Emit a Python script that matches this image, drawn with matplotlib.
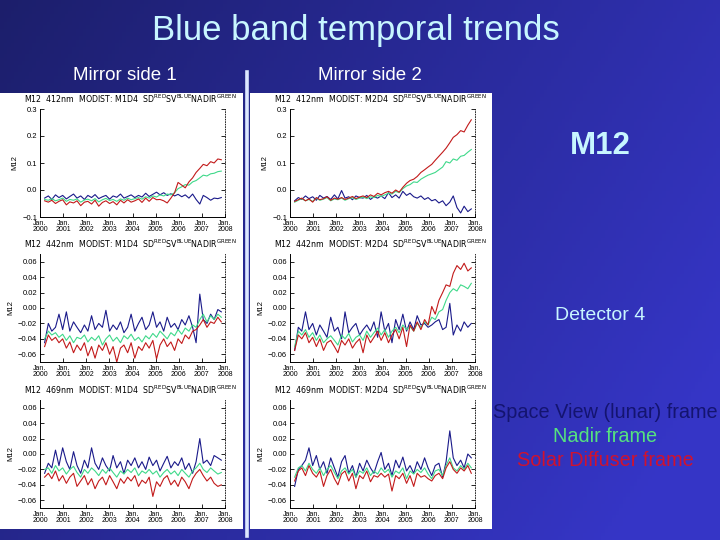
import numpy as np
import matplotlib
matplotlib.use("Agg")
import matplotlib.pyplot as plt
from matplotlib.patches import Rectangle
from matplotlib.lines import Line2D

# ---------------- data ----------------
t = [2000.20, 2000.36, 2000.51, 2000.67, 2000.82, 2000.98, 2001.14, 2001.29, 2001.45, 2001.60,
     2001.76, 2001.92, 2002.07, 2002.23, 2002.38, 2002.54, 2002.70, 2002.85, 2003.01, 2003.16,
     2003.32, 2003.48, 2003.63, 2003.79, 2003.94, 2004.10, 2004.26, 2004.41, 2004.57, 2004.72,
     2004.88, 2005.04, 2005.19, 2005.35, 2005.50, 2005.66, 2005.82, 2005.97, 2006.13, 2006.28,
     2006.44, 2006.60, 2006.75, 2006.91, 2007.06, 2007.22, 2007.38, 2007.53, 2007.69, 2007.84]

year_ticks = [2000, 2001, 2002, 2003, 2004, 2005, 2006, 2007, 2008]
year_labels = ["Jan.\n2000", "Jan.\n2001", "Jan.\n2002", "Jan.\n2003", "Jan.\n2004",
               "Jan.\n2005", "Jan.\n2006", "Jan.\n2007", "Jan.\n2008"]

# Mirror side 1, 412 nm
ms1_412_sv = [-0.030, -0.022, -0.035, -0.018, -0.028, -0.020, -0.033, -0.024, -0.015, -0.030,
              -0.022, -0.035, -0.020, -0.028, -0.017, -0.032, -0.025, -0.020, -0.034, -0.022,
              -0.027, -0.015, -0.030, -0.024, -0.018, -0.028, -0.020, -0.026, -0.012, -0.024,
              -0.016, -0.008, -0.018, -0.010, -0.020, -0.014, -0.022, -0.016, -0.025, -0.018,
              -0.030, -0.015, -0.035, -0.052, -0.020, -0.028, -0.038, -0.030, -0.032, -0.028]
ms1_412_nadir = [-0.035, -0.038, -0.032, -0.040, -0.036, -0.030, -0.042, -0.035, -0.038, -0.033,
                 -0.045, -0.037, -0.034, -0.040, -0.032, -0.044, -0.036, -0.031, -0.039, -0.035,
                 -0.042, -0.033, -0.038, -0.030, -0.036, -0.032, -0.028, -0.034, -0.025, -0.030,
                 -0.022, -0.026, -0.018, -0.022, -0.015, -0.018, -0.010, 0.005, 0.012, 0.020,
                 0.018, 0.030, 0.035, 0.045, 0.055, 0.052, 0.060, 0.062, 0.068, 0.070]
ms1_412_sd = [-0.040, -0.045, -0.038, -0.050, -0.042, -0.036, -0.055, -0.044, -0.048, -0.040,
              -0.058, -0.045, -0.042, -0.052, -0.038, -0.060, -0.046, -0.040, -0.050, -0.043,
              -0.055, -0.038, -0.048, -0.036, -0.045, -0.040, -0.033, -0.046, -0.030, -0.042,
              -0.028, -0.036, -0.035, -0.040, -0.048, -0.030, -0.010, 0.028, 0.018, 0.008,
              0.030, 0.045, 0.065, 0.080, 0.095, 0.090, 0.105, 0.100, 0.115, 0.112]

# Mirror side 2, 412 nm
ms2_412_sv = [-0.040, -0.028, -0.035, -0.022, -0.032, -0.025, -0.038, -0.020, -0.030, -0.024,
              -0.035, -0.018, -0.033, -0.002, -0.030, -0.025, -0.036, -0.022, -0.028, -0.030,
              -0.020, -0.035, -0.025, -0.030, -0.022, -0.032, -0.010, -0.028, -0.018, -0.030,
              -0.005, -0.020, -0.012, -0.025, -0.030, -0.022, -0.035, -0.028, -0.040, -0.035,
              -0.048, -0.040, -0.058, -0.045, -0.022, -0.065, -0.085, -0.060, -0.080, -0.070]
ms2_412_nadir = [-0.045, -0.038, -0.032, -0.040, -0.035, -0.042, -0.030, -0.038, -0.034, -0.028,
                 -0.040, -0.033, -0.036, -0.030, -0.038, -0.032, -0.028, -0.035, -0.030, -0.026,
                 -0.032, -0.025, -0.028, -0.020, -0.024, -0.018, -0.012, -0.015, -0.005, -0.010,
                 0.005, 0.015, 0.020, 0.030, 0.028, 0.040, 0.048, 0.055, 0.060, 0.065,
                 0.075, 0.085, 0.105, 0.100, 0.115, 0.110, 0.125, 0.128, 0.140, 0.150]
ms2_412_sd = [-0.042, -0.036, -0.030, -0.040, -0.033, -0.045, -0.028, -0.036, -0.032, -0.025,
              -0.038, -0.030, -0.034, -0.028, -0.035, -0.030, -0.024, -0.032, -0.026, -0.022,
              -0.028, -0.018, -0.024, -0.012, -0.018, -0.010, -0.005, -0.012, 0.000, -0.008,
              0.010, 0.025, 0.035, 0.040, 0.050, 0.065, 0.075, 0.085, 0.095, 0.110,
              0.125, 0.140, 0.155, 0.175, 0.195, 0.205, 0.220, 0.215, 0.240, 0.260]

# Mirror side 1, 442 nm
ms1_442_sv = [-0.045, -0.020, -0.030, -0.025, -0.008, -0.028, -0.005, -0.030, -0.018, -0.025,
              -0.032, -0.022, -0.030, -0.010, -0.028, -0.020, -0.025, -0.003, -0.030, -0.022,
              -0.028, -0.018, -0.032, -0.025, -0.008, -0.030, -0.020, -0.012, -0.028, -0.022,
              -0.005, -0.025, -0.018, -0.030, -0.012, -0.025, -0.020, -0.028, -0.015, -0.022,
              -0.010, -0.025, -0.045, 0.018, -0.015, -0.020, -0.008, -0.015, -0.002, -0.005]
ms1_442_nadir = [-0.040, -0.030, -0.035, -0.032, -0.038, -0.034, -0.042, -0.036, -0.045, -0.038,
                 -0.040, -0.035, -0.044, -0.038, -0.042, -0.036, -0.048, -0.040, -0.035, -0.043,
                 -0.038, -0.045, -0.036, -0.040, -0.034, -0.042, -0.038, -0.044, -0.036, -0.040,
                 -0.033, -0.038, -0.030, -0.035, -0.040, -0.032, -0.036, -0.028, -0.034, -0.026,
                 -0.030, -0.022, -0.025, -0.015, -0.008, -0.018, -0.010, -0.015, -0.008, -0.012]
ms1_442_sd = [-0.050, -0.035, -0.042, -0.038, -0.045, -0.040, -0.052, -0.044, -0.058, -0.048,
              -0.055, -0.045, -0.062, -0.050, -0.065, -0.048, -0.055, -0.045, -0.060, -0.050,
              -0.070, -0.052, -0.048, -0.058, -0.045, -0.065, -0.050, -0.055, -0.045, -0.052,
              -0.042, -0.066, -0.048, -0.040, -0.050, -0.044, -0.055, -0.040, -0.046, -0.035,
              -0.040, -0.030, -0.028, -0.022, -0.015, -0.025, -0.018, -0.020, -0.012, -0.018]

# Mirror side 2, 442 nm
ms2_442_sv = [-0.055, -0.025, -0.030, -0.005, -0.028, -0.020, -0.035, -0.022, -0.030, -0.038,
              -0.012, -0.030, -0.025, -0.040, -0.005, -0.032, -0.025, -0.020, -0.035, -0.028,
              -0.022, -0.030, -0.018, -0.038, -0.005, -0.030, -0.020, -0.045, -0.015, -0.028,
              -0.008, -0.030, -0.018, -0.028, -0.010, -0.022, -0.020, -0.025, -0.022, -0.018,
              -0.015, -0.028, -0.025, 0.006, -0.035, -0.022, -0.030, -0.018, -0.025, -0.020]
ms2_442_nadir = [-0.050, -0.030, -0.035, -0.028, -0.038, -0.032, -0.042, -0.035, -0.045, -0.040,
                 -0.036, -0.042, -0.048, -0.035, -0.040, -0.033, -0.044, -0.038, -0.035, -0.042,
                 -0.030, -0.038, -0.032, -0.026, -0.035, -0.028, -0.038, -0.030, -0.025, -0.032,
                 -0.022, -0.028, -0.024, -0.030, -0.020, -0.025, -0.018, -0.022, -0.012, -0.015,
                 -0.005, -0.002, 0.010, 0.020, 0.025, 0.022, 0.030, 0.028, 0.025, 0.032]
ms2_442_sd = [-0.055, -0.035, -0.040, -0.032, -0.045, -0.038, -0.050, -0.040, -0.055, -0.045,
              -0.042, -0.050, -0.058, -0.042, -0.048, -0.040, -0.052, -0.045, -0.040, -0.058,
              -0.035, -0.045, -0.038, -0.030, -0.042, -0.032, -0.045, -0.035, -0.028, -0.040,
              -0.025, -0.050, -0.022, -0.030, -0.018, -0.028, -0.015, -0.022, 0.002, -0.008,
              0.010, 0.020, 0.030, 0.028, 0.045, 0.055, 0.050, 0.058, 0.048, 0.052]

# Mirror side 1, 469 nm
ms1_469_sv = [-0.025, -0.012, -0.018, 0.005, -0.015, 0.008, -0.010, -0.020, 0.003, -0.015,
              -0.025, -0.008, -0.018, 0.008, -0.012, -0.020, -0.005, -0.015, -0.022, -0.002,
              -0.018, -0.010, -0.025, -0.008, -0.015, -0.005, -0.018, -0.010, -0.020, -0.004,
              -0.015, -0.008, -0.022, -0.012, -0.003, -0.018, -0.010, -0.015, -0.005, -0.020,
              -0.012, -0.025, -0.010, 0.020, -0.012, -0.008, -0.015, -0.002, -0.005, -0.008]
ms1_469_nadir = [-0.020, -0.018, -0.025, -0.015, -0.022, -0.018, -0.026, -0.020, -0.016, -0.024,
                 -0.030, -0.020, -0.025, -0.018, -0.022, -0.028, -0.020, -0.025, -0.018, -0.024,
                 -0.030, -0.022, -0.026, -0.020, -0.024, -0.018, -0.028, -0.022, -0.025, -0.020,
                 -0.026, -0.022, -0.030, -0.024, -0.020, -0.026, -0.022, -0.028, -0.020, -0.025,
                 -0.030, -0.022, -0.018, -0.012, -0.020, -0.024, -0.018, -0.022, -0.026, -0.024]
ms1_469_sd = [-0.030, -0.025, -0.032, -0.022, -0.035, -0.028, -0.038, -0.030, -0.025, -0.042,
              -0.035, -0.028, -0.040, -0.032, -0.045, -0.035, -0.030, -0.040, -0.028, -0.036,
              -0.045, -0.032, -0.038, -0.030, -0.035, -0.028, -0.042, -0.034, -0.038, -0.030,
              -0.055, -0.036, -0.042, -0.032, -0.028, -0.040, -0.034, -0.042, -0.030, -0.036,
              -0.045, -0.032, -0.025, -0.020, -0.028, -0.035, -0.030, -0.038, -0.042, -0.040]

# Mirror side 2, 469 nm
ms2_469_sv = [-0.042, -0.020, -0.015, -0.008, 0.008, -0.015, -0.002, -0.020, -0.010, -0.025,
              -0.005, -0.018, -0.030, -0.010, -0.002, -0.025, -0.015, -0.030, -0.012, -0.022,
              -0.008, -0.018, -0.025, -0.010, 0.002, -0.020, -0.012, -0.028, -0.008, -0.018,
              -0.004, -0.022, -0.015, -0.025, -0.010, -0.020, -0.005, -0.018, -0.028, -0.015,
              -0.012, -0.030, -0.010, 0.030, -0.005, -0.015, -0.008, -0.018, 0.000, -0.005]
ms2_469_nadir = [-0.030, -0.018, -0.015, -0.022, -0.012, -0.020, -0.025, -0.018, -0.028, -0.020,
                 -0.015, -0.024, -0.032, -0.022, -0.018, -0.026, -0.020, -0.030, -0.022, -0.025,
                 -0.018, -0.028, -0.022, -0.026, -0.018, -0.024, -0.020, -0.030, -0.022, -0.025,
                 -0.018, -0.032, -0.022, -0.026, -0.020, -0.024, -0.018, -0.026, -0.032, -0.022,
                 -0.020, -0.028, -0.015, -0.005, -0.018, -0.022, -0.015, -0.020, -0.012, -0.018]
ms2_469_sd = [-0.035, -0.022, -0.018, -0.028, -0.015, -0.025, -0.030, -0.022, -0.042, -0.028,
              -0.020, -0.032, -0.040, -0.026, -0.022, -0.035, -0.025, -0.045, -0.028, -0.032,
              -0.022, -0.036, -0.028, -0.030, -0.025, -0.030, -0.026, -0.048, -0.028, -0.032,
              -0.025, -0.038, -0.028, -0.042, -0.025, -0.030, -0.028, -0.032, -0.035, -0.028,
              -0.025, -0.032, -0.018, -0.010, -0.020, -0.025, -0.018, -0.022, -0.015, -0.025]

# ---------------- style ----------------
W, H = 720, 540
C_SV = "#1a1a8a"
C_NADIR = "#3fd98a"
C_SD = "#c21a1a"
TITLE_C = "#c8f6ff"

plt.rcParams['font.family'] = ['Liberation Sans', 'DejaVu Sans']

fig = plt.figure(figsize=(7.2, 5.4), dpi=100)

# background gradient
bg = fig.add_axes([0, 0, 1, 1], zorder=-10)
bg.set_axis_off()
gx = np.linspace(0, 1, 200)[None, :]
gy = np.linspace(0, 1, 150)[:, None]
s = np.clip(0.75 * gx + 0.35 * gy, 0, 1)
c0 = np.array([0.11, 0.12, 0.42])
c1 = np.array([0.21, 0.21, 0.78])
img = c0[None, None, :] * (1 - s[..., None]) + c1[None, None, :] * s[..., None]
bg.imshow(img, aspect='auto', extent=[0, 1, 0, 1], origin='upper')
bg.set_xlim(0, 1)
bg.set_ylim(0, 1)


def fx(px):
    return px / W


def fy(py):
    return 1 - py / H


# white panel boxes
for (x0, x1) in [(0, 243), (250, 492)]:
    fig.add_artist(Rectangle((fx(x0), fy(529)), fx(x1 - x0), (529 - 93) / H,
                             transform=fig.transFigure, facecolor='white',
                             edgecolor='none', zorder=-5))

# vertical separator
fig.add_artist(Line2D([fx(247), fx(247)], [fy(72), fy(536)], transform=fig.transFigure,
                      color='#dde8ff', lw=2.6, zorder=-4))

fig.text(fx(356), fy(31), "Blue band temporal trends", color=TITLE_C, fontsize=25,
         ha='center', va='center')
fig.text(fx(125), fy(75), "Mirror side 1", color='white', fontsize=13.5, ha='center', va='center')
fig.text(fx(370), fy(75), "Mirror side 2", color='white', fontsize=13.5, ha='center', va='center')
fig.text(fx(600), fy(146), "M12", color=TITLE_C, fontsize=22.5, fontweight='bold',
         ha='center', va='center')
fig.text(fx(600), fy(316), "Detector 4", color=TITLE_C, fontsize=14, ha='center', va='center')
fig.text(fx(605), fy(412), "Space View (lunar) frame", color='#141470', fontsize=14.3,
         ha='center', va='center')
fig.text(fx(605), fy(436), "Nadir frame", color='#55e37f', fontsize=14.3, ha='center', va='center')
fig.text(fx(605), fy(460), "Solar Diffuser frame", color='#d0122e', fontsize=14.3,
         ha='center', va='center')

panels = [
    # (x0, x1, ytop, ybot, title, sv, nadir, sd, ylim, yticks, ylabels)
    (40, 225, 109, 217, "M12  412nm  MODIST: M1D4  ", ms1_412_sv, ms1_412_nadir, ms1_412_sd,
     (-0.1, 0.3), [-0.1, 0.0, 0.1, 0.2, 0.3], ["\u22120.1", "0.0", "0.1", "0.2", "0.3"]),
    (290, 475, 109, 217, "M12  412nm  MODIST: M2D4  ", ms2_412_sv, ms2_412_nadir, ms2_412_sd,
     (-0.1, 0.3), [-0.1, 0.0, 0.1, 0.2, 0.3], ["\u22120.1", "0.0", "0.1", "0.2", "0.3"]),
    (40, 225, 254, 362, "M12  442nm  MODIST: M1D4  ", ms1_442_sv, ms1_442_nadir, ms1_442_sd,
     (-0.07, 0.07), [-0.06, -0.04, -0.02, 0.0, 0.02, 0.04, 0.06],
     ["\u22120.06", "\u22120.04", "\u22120.02", "0.00", "0.02", "0.04", "0.06"]),
    (290, 475, 254, 362, "M12  442nm  MODIST: M2D4  ", ms2_442_sv, ms2_442_nadir, ms2_442_sd,
     (-0.07, 0.07), [-0.06, -0.04, -0.02, 0.0, 0.02, 0.04, 0.06],
     ["\u22120.06", "\u22120.04", "\u22120.02", "0.00", "0.02", "0.04", "0.06"]),
    (40, 225, 400, 508, "M12  469nm  MODIST: M1D4  ", ms1_469_sv, ms1_469_nadir, ms1_469_sd,
     (-0.07, 0.07), [-0.06, -0.04, -0.02, 0.0, 0.02, 0.04, 0.06],
     ["\u22120.06", "\u22120.04", "\u22120.02", "0.00", "0.02", "0.04", "0.06"]),
    (290, 475, 400, 508, "M12  469nm  MODIST: M2D4  ", ms2_469_sv, ms2_469_nadir, ms2_469_sd,
     (-0.07, 0.07), [-0.06, -0.04, -0.02, 0.0, 0.02, 0.04, 0.06],
     ["\u22120.06", "\u22120.04", "\u22120.02", "0.00", "0.02", "0.04", "0.06"]),
]

for (x0, x1, yt, yb, title, sv, nad, sd, ylim, yt_vals, yt_labs) in panels:
    ax = fig.add_axes([fx(x0), fy(yb), fx(x1 - x0), (yb - yt) / H])
    ax.set_facecolor('white')
    ax.plot(t, sv, color=C_SV, lw=0.8)
    ax.plot(t, nad, color=C_NADIR, lw=0.8)
    ax.plot(t, sd, color=C_SD, lw=0.8)
    ax.set_xlim(2000, 2008)
    ax.set_ylim(*ylim)
    ax.set_xticks(year_ticks)
    ax.set_xticklabels(year_labels, fontsize=5, linespacing=0.9)
    ax.set_yticks(yt_vals)
    ax.set_yticklabels(yt_labs, fontsize=5.5)
    ax.tick_params(axis='both', direction='in', length=3, width=0.6, pad=2,
                   right=True, top=False)
    ax.spines['top'].set_visible(False)
    ax.spines['right'].set_linestyle((0, (1, 2)))
    ax.spines['right'].set_linewidth(0.6)
    ax.spines['left'].set_linewidth(0.7)
    ax.spines['bottom'].set_linewidth(0.7)
    ax.set_ylabel("M12", fontsize=5.5, labelpad=3)
    ax.text(0.49, 1.04, title + r"SD$^{\rm RED}$SV$^{\rm BLUE}$NADIR$^{\rm GREEN}$",
            transform=ax.transAxes, ha='center', va='bottom', fontsize=5.7,
            family='DejaVu Sans')

fig.savefig("out.png", dpi=100)
